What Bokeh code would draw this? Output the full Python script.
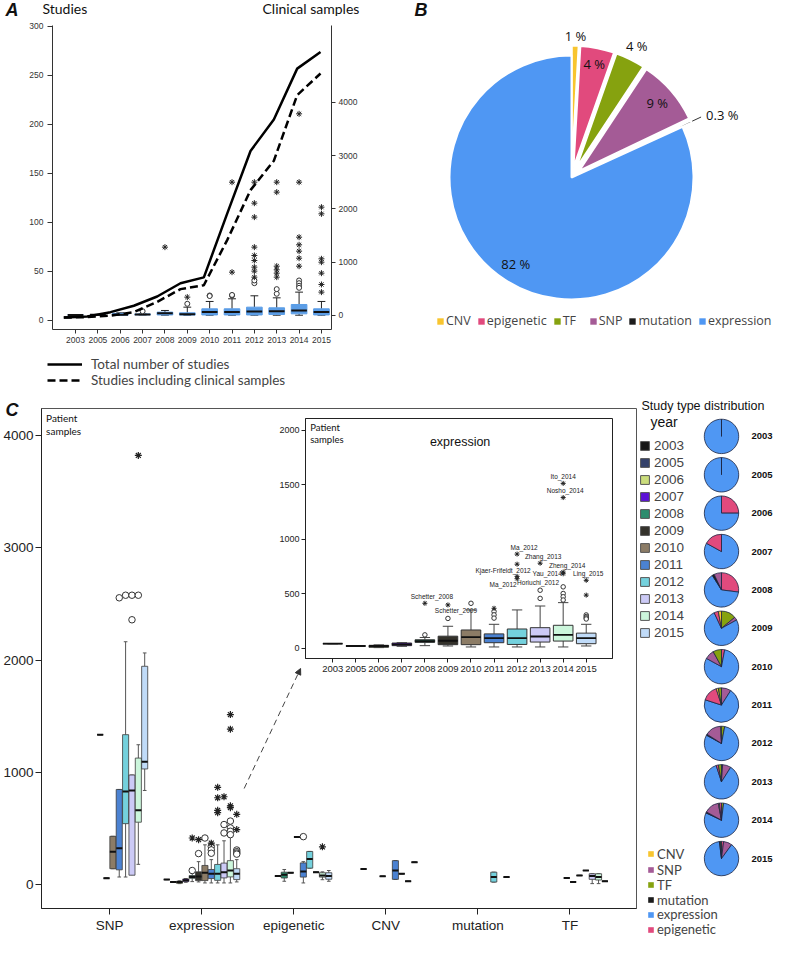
import math
from bokeh.plotting import figure
from bokeh.models import (Range1d, LinearAxis, FixedTicker, Label, Legend, LegendItem,
                          ColumnDataSource, Arrow, NormalHead, GridBox)
from bokeh.embed import file_html
from bokeh.resources import INLINE
from bokeh.core.properties import value

ARIAL = "Liberation Sans"
SANS = "Lato"
OPEN = "Open Sans"
NAN = float("nan")

# ======================= DATA =======================
years = ["2003", "2005", "2006", "2007", "2008", "2009", "2010", "2011", "2012", "2013", "2014", "2015"]
year_colors = ["#161616", "#34416a", "#cbdd7c", "#5c12d6", "#2c8c6d", "#34322b",
               "#8c7c66", "#4b82d2", "#74d1dd", "#cccaf6", "#ccf6dc", "#c0dbf8"]

# ---- Panel A: number of studies (left axis) ----
total_studies = [3, 4, 8.5, 15, 24.5, 38, 44, 109, 173, 205, 257, 274]
clinical_studies = [3, 3.4, 5, 8.5, 19, 32, 36, 82, 133, 163, 230, 252]
a_left_ticks = [0, 50, 100, 150, 200, 250, 300]
a_right_ticks = [0, 1000, 2000, 3000, 4000]
a_legend = ["Total number of studies", "Studies including clinical samples"]
# Panel A: clinical samples per study (right axis) boxplots
a_q1 = [10, 15, 5, 12, 10, 8, 10, 10, 10, 19, 31, 10]
a_med = [10, 15, 15, 20, 40, 25, 63, 63, 75, 81, 94, 63]
a_q3 = [10, 15, 40, 28, 63, 50, 125, 125, 156, 144, 206, 125]
a_lo = [10, 15, 5, 10, 5, 5, 5, 5, 5, 5, 5, 5]
a_hi = [10, 15, 50, 30, 94, 156, 263, 313, 369, 331, 438, 263]
a_circ_years = ["2007", "2009", "2010", "2010", "2011", "2011", "2012", "2012", "2013", "2013",
                "2014", "2014", "2014", "2014"]
a_circ_vals = [80, 219, 375, 365, 375, 385, 606, 657, 407, 494, 657, 606, 557, 519]
a_star_years = ["2008", "2009", "2011", "2011",
                "2012", "2012", "2012", "2012", "2012", "2012", "2012", "2012", "2012",
                "2013", "2013", "2013", "2013", "2013", "2013",
                "2014", "2014", "2014", "2014", "2014", "2014", "2014",
                "2015", "2015", "2015", "2015", "2015", "2015", "2015"]
a_star_vals = [1282, 344, 813, 2501,
               719, 832, 907, 1032, 1126, 1282, 1845, 2107, 2501,
               719, 794, 857, 925, 2314, 2501,
               925, 1075, 1207, 1326, 1469, 2501, 3783,
               438, 582, 794, 1000, 1063, 1907, 2032]

# ---- Panel B: study types ----
b_types = ["CNV", "epigenetic", "TF", "SNP", "mutation", "expression"]
b_pct = [0.9, 4.5, 3.9, 8.6, 0.3, 81.8]
b_labels = ["1 %", "4 %", "4 %", "9 %", "0.3 %", "82 %"]
b_colors = ["#f8c52f", "#e14a7d", "#86a20f", "#a45b96", "#1c1c1c", "#4f97f3"]

# ---- Panel C: patient samples per study type and year ----
c_cats = ["SNP", "expression", "epigenetic", "CNV", "mutation", "TF"]
c_ticks = [0, 1000, 2000, 3000, 4000]

snp_years = ["2008", "2009", "2010", "2011", "2012", "2013", "2014", "2015"]
snp_q1 = [1334, 54, 138, 128, 540, 80, 553, 1028]
snp_med = [1334, 54, 289, 321, 826, 836, 659, 1093]
snp_q3 = [1334, 54, 427, 845, 1334, 974, 1125, 1944]
snp_lo = [1334, 54, 138, 64, 64, 103, 177, 836]
snp_hi = [1334, 54, 427, 845, 2163, 974, 1244, 2063]
snp_circ_years = ["2011", "2012", "2013", "2013", "2014"]
snp_circ_vals = [2555, 2578, 2578, 2359, 2578]
snp_star_years = ["2014"]
snp_star_vals = [3825]

exp_q1 = [41, 20, 8, 23, 53, 32, 32, 50, 34, 56, 65, 41]
exp_med = [41, 20, 20, 35, 65, 68, 101, 92, 92, 107, 122, 92]
exp_q3 = [41, 20, 26, 47, 77, 110, 167, 131, 176, 188, 210, 138]
exp_lo = [41, 20, 5, 17, 23, 20, 11, 11, 11, 11, 11, 20]
exp_hi = [41, 20, 30, 50, 98, 201, 351, 219, 351, 387, 418, 219]
exp_circ_years = ["2008", "2009", "2010", "2011", "2011", "2011", "2013", "2013",
                  "2014", "2014", "2014", "2014", "2015", "2015", "2015", "2015"]
exp_circ_vals = [122, 273, 412, 337, 306, 276, 532, 457, 563, 502, 472, 442, 305, 290, 278, 268]
exp_star_years = ["2008", "2009", "2011", "2012", "2012", "2012", "2012", "2013",
                  "2014", "2014", "2014", "2014", "2015", "2015"]
exp_star_vals = [412, 397, 366, 864, 771, 659, 638, 780, 699, 683, 1513, 1383, 623, 487]
exp_star_names = ["Schetter_2008", "Schetter_2009", "", "Ma_2012", "Kjaer-Frifeldt_2012",
                  "Horiuchi_2012", "Ma_2012", "Zhang_2013", "Zheng_2014", "Yau_2014",
                  "Ito_2014", "Nosho_2014", "Ling_2015", ""]

epi_years = ["2007", "2008", "2009", "2010", "2011", "2012", "2013", "2014", "2015"]
epi_q1 = [72, 55, 102, 421, 63, 143, 107, 63, 44]
epi_med = [72, 84, 102, 421, 113, 225, 107, 78, 72]
epi_q3 = [72, 107, 102, 421, 190, 292, 107, 102, 102]
epi_lo = [72, 26, 102, 421, 11, 143, 107, 40, 26]
epi_hi = [72, 131, 102, 421, 201, 292, 107, 110, 122]
epi_circ_years = ["2011"]
epi_circ_vals = [424]
epi_star_years = ["2014"]
epi_star_vals = [333]

cnv_years = ["2006", "2009", "2011", "2012", "2013", "2014"]
cnv_q1 = [135, 70, 43, 93, 26, 196]
cnv_med = [135, 70, 122, 93, 26, 196]
cnv_q3 = [135, 70, 210, 93, 26, 196]

mut_years = ["2012", "2014"]
mut_q1 = [19, 63]
mut_med = [63, 63]
mut_q3 = [107, 63]

tf_years = ["2009", "2010", "2011", "2012", "2013", "2014", "2015"]
tf_q1 = [55, 20, 78, 122, 43, 37, 26]
tf_med = [55, 20, 78, 122, 72, 63, 26]
tf_q3 = [55, 20, 78, 122, 93, 93, 26]
tf_lo = [55, 20, 78, 122, 5, 5, 26]
tf_hi = [55, 20, 78, 122, 93, 93, 26]

inset_ticks = [0, 500, 1000, 1500, 2000]

# ---- mini pies: study type distribution per year ----
pie_cnv = [0, 0, 0, 0, 0, 0.03, 0, 0.02, 0.01, 0, 0.01, 0]
pie_snp = [0, 0, 0, 0, 0.07, 0.03, 0.09, 0.09, 0.15, 0.08, 0.14, 0.08]
pie_tf = [0, 0, 0, 0, 0, 0.14, 0.08, 0.03, 0.03, 0.03, 0.02, 0.01]
pie_mut = [0, 0, 0, 0, 0.02, 0, 0, 0, 0.01, 0.01, 0.01, 0.01]
pie_epi = [0, 0, 0.25, 0.17, 0.27, 0.04, 0.03, 0.15, 0, 0.02, 0.02, 0.02]
pie_order = ["expression", "expression", "epigenetic,expression", "expression,epigenetic",
             "epigenetic,expression,mutation,SNP", "TF,SNP,expression,epigenetic,CNV",
             "epigenetic,expression,SNP,TF", "SNP,expression,epigenetic,CNV,TF",
             "TF,expression,mutation,SNP,CNV", "mutation,SNP,expression,epigenetic,TF",
             "TF,expression,mutation,SNP,CNV,epigenetic", "epigenetic,SNP,expression,mutation,TF"]
mini_legend_types = ["CNV", "SNP", "TF", "mutation", "expression", "epigenetic"]

# ======================= HELPERS =======================
def lin(p0, p1, d0, d1):
    k = (d1 - d0) / (p1 - p0)
    return lambda px: d0 + (px - p0) * k


def new_fig(**kw):
    p = figure(output_backend="svg", toolbar_location=None, x_axis_type=None, y_axis_type=None, **kw)
    p.outline_line_color = None
    p.frame_align = False
    return p


def style_axis(ax, size, tick_out=4, standoff=3, color="#222", font=ARIAL):
    ax.major_label_text_font = font
    ax.major_label_text_font_size = size
    ax.major_label_text_color = color
    ax.axis_line_color = color
    ax.major_tick_line_color = color
    ax.major_tick_out = tick_out
    ax.major_tick_in = 0
    ax.minor_tick_line_color = None
    ax.major_label_standoff = standoff


def draw_boxes(p, x, q1, med, q3, lo, hi, fill, bw, cap, line_color, line_w, med_color, med_w,
               wh_color, yname="default"):
    x = list(x)
    src = ColumnDataSource(dict(x=x, q1=q1, med=med, q3=q3, lo=lo, hi=hi, fill=fill,
                                ml=[v - bw / 2 for v in x], mr=[v + bw / 2 for v in x],
                                cl=[v - cap / 2 for v in x], cr=[v + cap / 2 for v in x]))
    kw = dict(source=src, y_range_name=yname)
    p.segment(x0="x", y0="lo", x1="x", y1="q1", line_color=wh_color, line_width=1, **kw)
    p.segment(x0="x", y0="q3", x1="x", y1="hi", line_color=wh_color, line_width=1, **kw)
    p.segment(x0="cl", y0="lo", x1="cr", y1="lo", line_color=wh_color, line_width=1, **kw)
    p.segment(x0="cl", y0="hi", x1="cr", y1="hi", line_color=wh_color, line_width=1, **kw)
    p.vbar(x="x", width=bw, bottom="q1", top="q3", fill_color="fill", line_color=line_color,
           line_width=line_w, **kw)
    p.segment(x0="ml", y0="med", x1="mr", y1="med", line_color=med_color, line_width=med_w, **kw)


# ======================= PANEL A (page box 0..376 x 0..392) =======================
A_X = (-1.03, 11.45)
A_Y = (-9.2, 301)
A_CLIN = (-263, 5440)
A_YR = (-0.485, 11.47)
pa = new_fig(width=376, height=392, x_range=Range1d(*A_X), y_range=Range1d(*A_Y),
             min_border_left=52, min_border_right=45, min_border_top=25, min_border_bottom=63)
pa.extra_y_ranges = {"clin": Range1d(*A_CLIN)}
pa.extra_x_ranges = {"yr": Range1d(*A_YR)}

axl = LinearAxis(ticker=FixedTicker(ticks=a_left_ticks))
style_axis(axl, "8.5px", tick_out=5, standoff=4, color="#333")
pa.add_layout(axl, "left")
axr = LinearAxis(y_range_name="clin", ticker=FixedTicker(ticks=a_right_ticks))
style_axis(axr, "8.5px", tick_out=4, standoff=3, color="#333")
pa.add_layout(axr, "right")
idx = list(range(len(years)))
axb = LinearAxis(ticker=FixedTicker(ticks=idx),
                 major_label_overrides={i: y for i, y in enumerate(years)})
style_axis(axb, "8.5px", tick_out=4, standoff=3, color="#333")
pa.add_layout(axb, "below")

draw_boxes(pa, idx, a_q1, a_med, a_q3, a_lo, a_hi, ["#5b9de6"] * len(years), 0.7, 0.35,
           "#5b9de6", 1, "#111", 2, "#222", yname="clin")
pa.scatter([years.index(y) for y in a_circ_years], a_circ_vals, y_range_name="clin",
           marker="circle", size=5, fill_color="white", line_color="#333", line_width=1)
pa.scatter([years.index(y) for y in a_star_years], a_star_vals, y_range_name="clin",
           marker="asterisk", size=6, line_color="#222", line_width=1)
pa.line(idx, total_studies, x_range_name="yr", line_color="black", line_width=2.5)
pa.line(idx, clinical_studies, x_range_name="yr", line_color="black", line_width=2.5,
        line_dash="8 4")

# ======================= PANEL B (page box 376..773 x 0..392) =======================
R_B = 122
B_EXPLODE = 10
pb = new_fig(width=397, height=392, x_range=Range1d(-195, 202), y_range=Range1d(-215, 177),
             min_border=0)
b_label_r = [1.08, 0.87, 1.12, 0.85, 1.135, 0.845]
wd = dict(x=[], y=[], s=[], e=[], c=[])
lab = dict(x=[], y=[], t=[], align=[])
lead = dict(x0=[], y0=[], x1=[], y1=[])
cum = 0.0
for t, v, c, lt, lr in zip(b_types, b_pct, b_colors, b_labels, b_label_r):
    f = v / 100.0
    a0 = math.pi / 2 - (cum + f) * 2 * math.pi
    a1 = math.pi / 2 - cum * 2 * math.pi
    mid = (a0 + a1) / 2
    ex = 0 if t == "expression" else B_EXPLODE
    ox, oy = ex * math.cos(mid), ex * math.sin(mid)
    wd["x"].append(ox); wd["y"].append(oy); wd["s"].append(a0); wd["e"].append(a1); wd["c"].append(c)
    lab["x"].append(ox + lr * R_B * math.cos(mid))
    lab["y"].append(oy + lr * R_B * math.sin(mid))
    lab["t"].append(lt)
    lab["align"].append("left" if t == "mutation" else "center")
    if t == "mutation":
        lead["x0"].append(ox + 1.01 * R_B * math.cos(mid)); lead["y0"].append(oy + 1.01 * R_B * math.sin(mid))
        lead["x1"].append(ox + 1.09 * R_B * math.cos(mid)); lead["y1"].append(oy + 1.09 * R_B * math.sin(mid))
    cum += f
pb.wedge(x="x", y="y", radius=R_B, start_angle="s", end_angle="e", fill_color="c",
         line_color="white", line_width=2, source=ColumnDataSource(wd))
pb.segment(x0="x0", y0="y0", x1="x1", y1="y1", line_color="#333", line_width=1,
           source=ColumnDataSource(lead))
pb.text(x="x", y="y", text="t", text_align="align", text_baseline="middle",
        text_font=value(OPEN), text_font_size="13px", text_color="#111",
        source=ColumnDataSource(lab))

# ======================= PANEL C (page box 0..638 x 392..937) =======================
C_X = (-0.741, 5.723)
C_Y = (-217, 4244)
C_DODGE = 0.0691
C_BOXW = 0.066
pc = new_fig(width=638, height=545, x_range=Range1d(*C_X), y_range=Range1d(*C_Y),
             min_border_left=40, min_border_right=2, min_border_top=16, min_border_bottom=29)
pc.outline_line_color = "#555"
pc.outline_line_width = 1
cyax = LinearAxis(ticker=FixedTicker(ticks=c_ticks))
style_axis(cyax, "13.5px", tick_out=6, standoff=2, color="#222")
pc.add_layout(cyax, "left")
cxax = LinearAxis(ticker=FixedTicker(ticks=list(range(len(c_cats)))),
                  major_label_overrides={i: c for i, c in enumerate(c_cats)})
style_axis(cxax, "13.5px", tick_out=6, standoff=3, color="#222")
pc.add_layout(cxax, "below")

groups = [
    (snp_years, snp_q1, snp_med, snp_q3, snp_lo, snp_hi),
    (years, exp_q1, exp_med, exp_q3, exp_lo, exp_hi),
    (epi_years, epi_q1, epi_med, epi_q3, epi_lo, epi_hi),
    (cnv_years, cnv_q1, cnv_med, cnv_q3, cnv_q1, cnv_q3),
    (mut_years, mut_q1, mut_med, mut_q3, mut_q1, mut_q3),
    (tf_years, tf_q1, tf_med, tf_q3, tf_lo, tf_hi),
]
cols = {k: [] for k in ["x", "q1", "med", "q3", "lo", "hi", "fill"]}
for ci, (yrs, q1, med, q3, lo, hi) in enumerate(groups):
    for k, yr in enumerate(yrs):
        yi = years.index(yr)
        cols["x"].append(ci + (yi - 5.5) * C_DODGE)
        cols["q1"].append(q1[k]); cols["med"].append(med[k]); cols["q3"].append(q3[k])
        cols["lo"].append(lo[k]); cols["hi"].append(hi[k]); cols["fill"].append(year_colors[yi])
draw_boxes(pc, cols["x"], cols["q1"], cols["med"], cols["q3"], cols["lo"], cols["hi"],
           cols["fill"], C_BOXW, C_BOXW * 0.6, "#3a3a3a", 0.8, "#111", 2, "#555")


def c_pos(ci, yrs):
    return [ci + (years.index(y) - 5.5) * C_DODGE for y in yrs]


circ_x = c_pos(0, snp_circ_years) + c_pos(1, exp_circ_years) + c_pos(2, epi_circ_years)
circ_y = snp_circ_vals + exp_circ_vals + epi_circ_vals
star_x = c_pos(0, snp_star_years) + c_pos(1, exp_star_years) + c_pos(2, epi_star_years)
star_y = snp_star_vals + exp_star_vals + epi_star_vals
pc.scatter(circ_x, circ_y, marker="circle", size=6.5, fill_color="white", line_color="#333",
           line_width=1)
pc.scatter(star_x, star_y, marker="asterisk", size=7, line_color="#222", line_width=1.2)

cxp = lin(40, 636, *C_X)
cyp = lin(908, 408, *C_Y)
pc.add_layout(Arrow(end=NormalHead(size=6, fill_color="#333", line_color="#333", line_width=1),
                    x_start=cxp(243), y_start=cyp(788), x_end=cxp(299.5), y_end=cyp(668),
                    line_dash="6 4", line_color="#444", line_width=1))

# ---- inset (expression), frame page box 304..612 x 418..658 ----
I_X = (-1.18, 12.14)
I_Y = (-95, 2109)
pin = new_fig(width=338, height=262, x_range=Range1d(*I_X), y_range=Range1d(*I_Y),
              min_border_left=28, min_border_right=2, min_border_top=2, min_border_bottom=20)
pin.border_fill_color = None
pin.background_fill_color = "white"
pin.outline_line_color = "#222"
pin.outline_line_width = 1
iyax = LinearAxis(ticker=FixedTicker(ticks=inset_ticks))
style_axis(iyax, "9px", tick_out=4, standoff=2, color="#222")
pin.add_layout(iyax, "left")
ixax = LinearAxis(ticker=FixedTicker(ticks=idx),
                  major_label_overrides={i: y for i, y in enumerate(years)})
style_axis(ixax, "9.5px", tick_out=4, standoff=3, color="#222")
pin.add_layout(ixax, "below")
draw_boxes(pin, idx, exp_q1, exp_med, exp_q3, exp_lo, exp_hi, year_colors, 0.85, 0.45,
           "#333", 1, "#111", 1.8, "#444")
pin.scatter([years.index(y) for y in exp_circ_years], exp_circ_vals, marker="circle", size=4.5,
            fill_color="white", line_color="#333", line_width=1)
pin.scatter([years.index(y) for y in exp_star_years], exp_star_vals, marker="asterisk", size=5,
            line_color="#222", line_width=1)
star_dx = [7, 8, 0, 7, -14, 21, -14, 3, 4, -16, 0, 2, 2, 0]
star_dy = [-7, 6, 0, -7, 6, 6, 6, -7, -7, 0, -6.5, -7, -7, 0]
li = [i for i, n in enumerate(exp_star_names) if n]
pin.text(x=[years.index(exp_star_years[i]) for i in li], y=[exp_star_vals[i] for i in li],
         text=[exp_star_names[i] for i in li], x_offset=[star_dx[i] for i in li],
         y_offset=[star_dy[i] for i in li], text_align="center", text_baseline="middle",
         text_font=value(ARIAL), text_font_size="6.5px", text_color="#222")

# ======================= RIGHT PANEL (page box 638..773 x 392..937) =======================
P_Y = (13.056, -1.144)
pr = new_fig(width=135, height=545, x_range=Range1d(0, 135), y_range=Range1d(*P_Y), min_border=0)
type_color = dict(zip(b_types, b_colors))
fracs = {"CNV": pie_cnv, "SNP": pie_snp, "TF": pie_tf, "mutation": pie_mut, "epigenetic": pie_epi}
PIE_X = 83
mw = dict(y=[], s=[], e=[], c=[])
for i, yr in enumerate(years):
    exp_f = 1.0 - sum(fracs[t][i] for t in fracs)
    cum = 0.0
    for t in pie_order[i].split(","):
        f = exp_f if t == "expression" else fracs[t][i]
        if f <= 0:
            continue
        f = min(f, 0.99999)
        mw["y"].append(i)
        mw["s"].append(math.pi / 2 - (cum + f) * 2 * math.pi)
        mw["e"].append(math.pi / 2 - cum * 2 * math.pi)
        mw["c"].append(type_color[t])
        cum += f
mw["x"] = [PIE_X] * len(mw["y"])
pr.wedge(x="x", y="y", radius=17.2, radius_units="screen", start_angle="s", end_angle="e",
         fill_color="c", line_color="#1c2541", line_width=0.8, source=ColumnDataSource(mw))
pr.text(x=[113] * len(years), y=idx, text=years, text_baseline="middle",
        text_font=value(ARIAL), text_font_style="bold", text_font_size="9.5px", text_color="#111")

# ======================= OVERLAY: free texts and legends (page px) =======================
PAGE_H = 937
ov = new_fig(width=773, height=PAGE_H, x_range=Range1d(0, 773), y_range=Range1d(PAGE_H, 0),
             min_border=0)
ov.background_fill_color = None
ov.border_fill_color = None

page_texts = [
    ("A", 5, 9, "18px", ARIAL, "bold italic", "left"),
    ("Studies", 42, 8, "14px", SANS, "normal", "left"),
    ("Clinical samples", 262, 8, "14px", SANS, "normal", "left"),
    ("B", 414, 9, "18px", ARIAL, "bold italic", "left"),
    ("C", 5, 409, "18px", ARIAL, "bold italic", "left"),
    ("Patient", 45.6, 417, "10px", SANS, "normal", "left"),
    ("samples", 45.6, 430.8, "10px", SANS, "normal", "left"),
    ("Patient", 309.7, 426.5, "9.5px", SANS, "normal", "left"),
    ("samples", 309.7, 438.8, "9.5px", SANS, "normal", "left"),
    ("expression", 459.6, 441.3, "12.5px", ARIAL, "normal", "center"),
    ("Study type distribution", 641, 405, "12.5px", ARIAL, "normal", "left"),
    ("year", 650, 421.3, "14px", ARIAL, "normal", "left"),
]
for t, x, y, sz, fnt, sty, al in page_texts:
    ov.add_layout(Label(x=x, y=y, text=t, text_font=fnt, text_font_size=sz, text_font_style=sty,
                        text_align=al, text_baseline="middle", text_color="#111"))


def one_legend(item, x, y_center, half_h, **kw):
    ov.add_layout(Legend(items=[item], location=(x, PAGE_H - y_center - half_h), padding=0,
                         margin=0, border_line_color=None, background_fill_alpha=0, **kw))


# panel A legend (two single-item legends)
d1 = ov.line([NAN], [NAN], line_color="black", line_width=2.5)
d2 = ov.line([NAN], [NAN], line_color="black", line_width=2.5, line_dash="8 4")
for r, t, yc in zip([d1, d2], a_legend, [363.5, 379.5]):
    one_legend(LegendItem(label=t, renderers=[r]), 47, yc, 8.4, glyph_width=35, glyph_height=12,
               label_height=12, label_standoff=9, label_text_font=SANS,
               label_text_font_size="13.5px")


def square_items(labels, colors, outline):
    items = []
    for t, c in zip(labels, colors):
        r = ov.quad(left=[NAN], right=[NAN], top=[NAN], bottom=[NAN], fill_color=c,
                    line_color=outline, line_width=1)
        items.append(LegendItem(label=t, renderers=[r]))
    return items


# panel B legend
ov.add_layout(Legend(items=square_items(b_types, b_colors, None), location=(436, 608),
                     orientation="horizontal", glyph_width=8, glyph_height=8, label_height=8,
                     label_standoff=2, spacing=6, padding=0, margin=0, label_text_font=OPEN,
                     label_text_font_size="12.5px", border_line_color=None,
                     background_fill_alpha=0))
# year legend (panel C)
ov.add_layout(Legend(items=square_items(years, year_colors, "#555"), location=(639, 297),
                     glyph_width=11, glyph_height=11, label_height=11, label_standoff=4,
                     spacing=2, padding=0, margin=0, label_text_font=ARIAL,
                     label_text_font_size="13.5px", border_line_color=None,
                     background_fill_alpha=0))
# study type legend (mini pies), one row each
type_items = square_items(mini_legend_types, [type_color[t] for t in mini_legend_types], None)
for item, yc in zip(type_items, [853.5, 869.6, 884.8, 899.8, 914.3, 929.0]):
    one_legend(item, 647, yc, 8.1, glyph_width=7, glyph_height=7, label_height=7,
               label_standoff=3, label_text_font=SANS, label_text_font_size="13px")

# ======================= LAYOUT =======================
pb.margin = (0, 0, 0, 376)
pc.margin = (392, 0, 0, 0)
pin.margin = (416, 0, 0, 276)
pr.margin = (392, 0, 0, 638)
grid = GridBox(children=[(pa, 0, 0), (pb, 0, 0), (pc, 0, 0), (pin, 0, 0), (pr, 0, 0), (ov, 0, 0)])
open("out.html", "w").write(file_html(grid, INLINE))
